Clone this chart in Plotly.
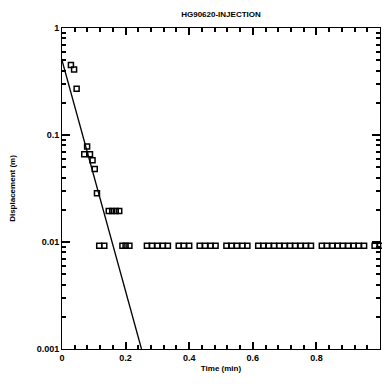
import plotly.graph_objects as go

title_text = "HG90620-INJECTION"
x_title = "Time (min)"
y_title = "Displacement (m)"

# observed data (time in min, displacement in m)
time_obs = [0.028, 0.038, 0.046, 0.070, 0.079, 0.088, 0.096, 0.103, 0.110,
            0.117, 0.133,
            0.147, 0.158, 0.169, 0.180,
            0.190, 0.200, 0.212,
            0.267, 0.283, 0.300, 0.317, 0.333,
            0.367, 0.383, 0.400,
            0.433, 0.450, 0.467, 0.483,
            0.517, 0.533, 0.550, 0.567, 0.583,
            0.617, 0.633, 0.650, 0.667, 0.683, 0.700, 0.717, 0.733, 0.750,
            0.767, 0.783,
            0.817, 0.833, 0.850, 0.867, 0.883, 0.900, 0.917, 0.933, 0.950,
            0.983, 1.000]
disp_obs = [0.45, 0.41, 0.27, 0.066, 0.078, 0.066, 0.058, 0.048, 0.0285,
            0.0092, 0.0092,
            0.0195, 0.0195, 0.0195, 0.0195,
            0.0092, 0.0092, 0.0092,
            0.0092, 0.0092, 0.0092, 0.0092, 0.0092,
            0.0092, 0.0092, 0.0092,
            0.0092, 0.0092, 0.0092, 0.0092,
            0.0092, 0.0092, 0.0092, 0.0092, 0.0092,
            0.0092, 0.0092, 0.0092, 0.0092, 0.0092, 0.0092, 0.0092, 0.0092, 0.0092,
            0.0092, 0.0092,
            0.0092, 0.0092, 0.0092, 0.0092, 0.0092, 0.0092, 0.0092, 0.0092, 0.0092,
            0.0092, 0.0092]

# fitted straight line
time_fit = [0.0, 0.25]
disp_fit = [0.5, 0.001]

x_tickvals = [0, 0.2, 0.4, 0.6, 0.8, 1]
y_tickvals = [1, 0.1, 0.01, 0.001]

FONT = "Liberation Sans, Arial, sans-serif"

fig = go.Figure()
fig.add_trace(go.Scatter(x=time_fit, y=disp_fit, mode="lines",
                         line=dict(color="black", width=1.3),
                         showlegend=False, cliponaxis=True))
fig.add_trace(go.Scatter(x=time_obs, y=disp_obs, mode="markers",
                         marker=dict(symbol="square-open", size=5,
                                     color="black", line=dict(width=1.5, color="black")),
                         showlegend=False, cliponaxis=False))

# the page body adds an 8px margin, so the figure is sized to fit inside the window
fig.update_layout(
    width=374, height=371,
    margin=dict(l=54, r=2, t=20, b=30, autoexpand=False),
    paper_bgcolor="white", plot_bgcolor="white",
    font=dict(family=FONT, size=9, color="black"),
    title=dict(text="<b>" + title_text + "</b>", x=(54 + 372) / 2 / 374, xanchor="center",
               y=1 - 6 / 371, yanchor="middle", font=dict(size=8, family=FONT)),
    xaxis=dict(
        range=[0, 1], tickvals=x_tickvals,
        ticks="inside", ticklen=7, tickwidth=1.5, tickcolor="black",
        minor=dict(tick0=0, dtick=0.04, ticks="inside", ticklen=4, tickcolor="black",
                   showgrid=False),
        showline=True, linecolor="black", mirror="ticks",
        gridcolor="white",
        tickfont=dict(size=9, family=FONT, weight="bold"),
        title=dict(text="<b>" + x_title + "</b>", font=dict(size=8, family=FONT), standoff=3),
    ),
    yaxis=dict(
        type="log", range=[-3, 0], tickvals=y_tickvals,
        ticks="inside", ticklen=8, tickwidth=1.5, tickcolor="black",
        minor=dict(dtick="D1", ticks="inside", ticklen=4, tickcolor="black",
                   showgrid=False),
        showline=True, linecolor="black", mirror="ticks",
        gridcolor="white",
        tickfont=dict(size=9, family=FONT, weight="bold"),
        title=dict(text="<b>" + y_title + "</b>", font=dict(size=8, family=FONT), standoff=20),
    ),
)

fig.write_html("out.html")
